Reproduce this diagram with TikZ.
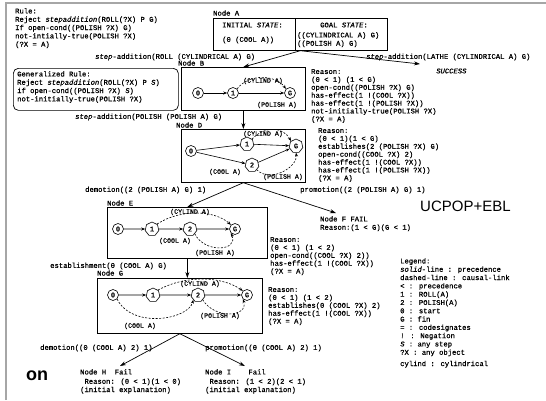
\documentclass[tikz,border=0pt]{standalone}
\usepackage{fontspec}
\newfontfamily\tfont{Liberation Mono}[FakeBold=0.8]
\newfontfamily\bigfont{Liberation Sans}
\usetikzlibrary{arrows.meta,shapes.geometric}
\begin{document}
\begin{tikzpicture}[x=1pt,y=-1pt,
  t/.style={font=\tfont\fontsize{7.2}{8.3}\selectfont, inner sep=0pt, anchor=west},
  blk/.style={font=\tfont\fontsize{7.2}{8.3}\selectfont, inner sep=0pt, anchor=north west, align=left},
  rblk/.style={font=\tfont\fontsize{7.2}{7.9}\selectfont, inner sep=0pt, anchor=north west, align=left},
  lab/.style={font=\tfont\fontsize{6.6}{7}\selectfont, inner sep=0pt},
  bx/.style={draw, line width=0.7pt, anchor=north west, inner sep=0pt},
  cs/.style={circle, draw, line width=0.6pt, inner sep=0pt, minimum size=11pt, font=\tfont\fontsize{7}{7}\selectfont},
  ps/.style={regular polygon, regular polygon sides=7, draw, line width=0.6pt, inner sep=0pt, minimum size=14pt, font=\tfont\fontsize{7}{7}\selectfont},
  pr/.style={-{Stealth[length=4pt,width=3pt]}, line width=0.6pt},
  cl/.style={-{Stealth[length=4pt,width=3pt]}, dash pattern=on 2pt off 1.5pt, line width=0.6pt},
  big/.style={-{Stealth[length=6pt,width=4pt]}, line width=0.7pt}]
\useasboundingbox (0,0) rectangle (546,400);
\fill[white] (0,0) rectangle (546,400);
% frame
\draw[gray!70, line width=2pt] (6,400) -- (6,3) -- (546,3);

% Rule
\node[blk] (rule) at (15,8) {Rule:\\Reject \textit{stepaddition}(ROLL(?X) P G)\\If open-cond((POLISH ?X) G)\\not-intially-true(POLISH ?X)\\(?X = A)};

% Node A
\node[t] (labA) at (213,13) {Node A};
\node[bx, minimum width=174pt, minimum height=32pt] (NA) at (213,18) {};
\coordinate (divT) at (295,18);
\coordinate (divB) at (295,50);
\draw[line width=0.7pt] (divT) -- (divB);
\node[t] (initst) at (222,25) {INITIAL \textit{STATE}:};
\node[t] (initv) at (222,40) {(0 (COOL A))};
\node[t] (goalst) at (320,25) {GOAL \textit{STATE}:};
\node[blk] (goalv) at (297,32) {((CYLINDRICAL A) G)\\((POLISH A) G)};

\node[t] (sROLL) at (95,57) {\textit{step}-addition(ROLL (CYLINDRICAL A) G)};
\node[t] (sLATHE) at (366,57) {\textit{step}-addition(LATHE (CYLINDRICAL A) G)};
\node[t] (succ) at (436,71) {\textit{SUCCESS}};
\coordinate (succpt) at (420,64);

% Generalized rule
\node[bx, rounded corners=5pt, minimum width=165pt, minimum height=42pt] (GR) at (13,68) {};
\node[blk] (grt) at (17,71) {Generalized Rule:\\Reject \textit{stepaddition}(ROLL(?X) P \textit{S})\\if open-cond((POLISH ?X) \textit{S})\\not-initially-true(POLISH ?X)};

% Node B
\node[t] (labB) at (178,63) {Node B};
\node[bx, minimum width=124pt, minimum height=43pt] (NB) at (181,67) {};
\node[cs] (b0) at (198,93) {0};
\node[cs] (b1) at (233,93) {1};
\node[cs] (bG) at (290,93) {G};
\draw[pr] (b0) -- (b1);
\draw[pr] (b1) -- (bG);
\draw[cl] (b1.north east) .. controls +(12,-16) and +(-10,-14) .. (bG.north west);
\node[lab] (bl1) at (263,81) {(CYLIND A)};
\node[lab] (bl2) at (277,105) {(POLISH A)};
\node[rblk] (rB) at (311,69) {Reason:\\(0 < 1) (1 < G)\\open-cond((POLISH ?X) G)\\has-effect(1 !(COOL ?X))\\has-effect(1 !(POLISH ?X))\\not-initially-true(POLISH ?X)\\(?X = A)};

\node[t] (sPOL) at (75,117) {\textit{step}-addition(POLISH (POLISH A) G)};

% Node D
\node[t] (labD) at (176,125) {Node D};
\node[bx, minimum width=124pt, minimum height=53pt] (ND) at (181,129) {};
\node[cs] (d0) at (191,151) {0};
\node[ps] (d1) at (247,144) {1};
\node[ps] (d2) at (252,165) {2};
\node[ps] (dG) at (296,146) {G};
\draw[pr] (d0) -- (d1);
\draw[pr] (d0) -- (d2);
\draw[pr] (d1) -- (dG);
\draw[pr] (d2) -- (dG);
\draw[cl] (d1.north east) .. controls +(14,-14) and +(-8,-14) .. (dG.north west);
\draw[cl] (d2.south east) .. controls +(14,14) and +(2,14) .. (dG.south);
\node[lab] (dl1) at (263,134) {(CYLIND A)};
\node[lab] (dl2) at (225,172) {(COOL A)};
\node[lab] (dl3) at (283,177) {(POLISH A)};
\node[rblk] (rD) at (318,128) {Reason:\\(0 < 1)(1 < G)\\establishes(2 (POLISH ?X) G)\\open-cond((COOL ?X) 2)\\has-effect(1 !(COOL ?X))\\has-effect(1 !(POLISH ?X))\\(?X = A)};

\node[t] (dem1) at (85,190) {demotion((2 (POLISH A) G) 1)};
\node[t] (pro1) at (300,190) {promotion((2 (POLISH A) G) 1)};
\coordinate (fpt) at (336,213);
\node[blk] (nF) at (320,216) {Node F FAIL\\Reason:(1 < G)(G < 1)};

\node[font=\bigfont\fontsize{15}{15}\selectfont, inner sep=0pt, anchor=west] (ucp) at (420,206) {UCPOP+EBL};

% Node E
\node[t] (labE) at (107,203) {Node E};
\node[bx, minimum width=160pt, minimum height=51pt] (NE) at (107,207) {};
\node[cs] (e0) at (118,229) {0};
\node[ps] (e1) at (152,229) {1};
\node[ps] (e2) at (190,229) {2};
\node[cs] (eG) at (235,229) {G};
\draw[pr] (e0) -- (e1);
\draw[pr] (e1) -- (e2);
\draw[pr] (e2) -- (eG);
\draw[cl] (e1.north east) .. controls +(25,-16) and +(-15,-14) .. (eG.north west);
\draw[cl] (e2.south east) .. controls +(10,20) and +(8,18) .. (eG.south west);
\node[lab] (el1) at (190,212) {(CYLIND A)};
\node[lab] (el2) at (175,241) {(COOL A)};
\node[lab] (el3) at (215,253) {(POLISH A)};
\node[rblk] (rE) at (270,237) {Reason:\\(0 < 1) (1 < 2)\\open-cond((COOL ?X) 2))\\has-effect(1 !(COOL ?X))\\(?X = A)};

% Legend
\node[blk] (leg) at (400,258) {Legend:\\\textit{solid}-line : precedence\\dashed-line : causal-link\\< : precedence\\1 : ROLL(A)\\2 : POLISH(A)\\0 : start\\G : fin\\= : codesignates\\! : Negation\\\textit{S} : any step\\?X : any object\\[3pt]cylind : cylindrical};

\node[t] (est) at (50,266) {establishment(0 (COOL A) G)};

% Node G
\node[t] (labG) at (97,273) {Node G};
\node[bx, minimum width=165pt, minimum height=55pt] (NG) at (97,278) {};
\node[cs] (g0) at (113,295) {0};
\node[ps] (g1) at (153,295) {1};
\node[ps] (g2) at (198,295) {2};
\node[cs] (gG) at (247,295) {G};
\draw[pr] (g0) -- (g1);
\draw[pr] (g1) -- (g2);
\draw[pr] (g2) -- (gG);
\draw[cl] (g1.north east) .. controls +(30,-16) and +(-20,-14) .. (gG.north west);
\draw[cl] (g0.south east) .. controls +(15,30) and +(-5,20) .. (g2.south west);
\draw[cl] (g2.south east) .. controls +(12,20) and +(6,18) .. (gG.south west);
\node[lab] (gl1) at (200,284) {(CYLIND A)};
\node[lab] (gl2) at (140,326) {(COOL A)};
\node[lab] (gl3) at (220,316) {(POLISH A)};
\node[rblk] (rG) at (268,287) {Reason:\\(0 < 1) (1 < 2)\\establishes(0 (COOL ?X) 2)\\has-effect(1 !(COOL ?X))\\(?X = A)};

\node[t] (dem2) at (40,348) {demotion((0 (COOL A) 2) 1)};
\node[t] (pro2) at (205,348) {promotion((0 (COOL A) 2) 1)};
\coordinate (hpt) at (120,366);
\coordinate (ipt) at (245,366);
\node[blk] (nH) at (80,369) {Node H\ \ Fail\\[1pt]\ Reason: (0 < 1)(1 < 0)\\(initial explanation)};
\node[blk] (nI) at (205,369) {Node I\ \ \ \ Fail\\[1pt]\ Reason: (1 < 2)(2 < 1)\\(initial explanation)};

\node[font=\bigfont\bfseries\fontsize{18}{18}\selectfont, inner sep=0pt, anchor=west] (on) at (26,376) {on};

% connectors between boxes
\draw[big] (NA.south) -- (NB.north);
\draw[big] (NA.south) -- (succpt);
\draw[big] (NB.south) -- (ND.north);
\draw[big] (ND.south) -- (NE.north);
\draw[big] (ND.south) -- (fpt);
\draw[big] (NE.south) -- (NE.south |- NG.north);
\draw[big] (NG.south) -- (hpt);
\draw[big] (NG.south) -- (ipt);
\end{tikzpicture}
\end{document}
